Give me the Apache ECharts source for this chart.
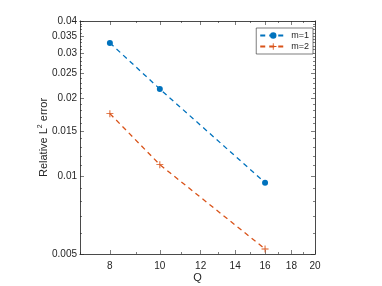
<!DOCTYPE html>
<html><head><meta charset="utf-8">
<script src="https://cdn.jsdelivr.net/npm/echarts@6/dist/echarts.min.js"></script>
<style>html,body{margin:0;padding:0;background:#fff}#c{width:382px;height:286px}</style>
</head><body><div id="c"></div>
<script>
const Q = [8, 10, 16];
const err_m1 = [0.0329, 0.0218, 0.00945];
const err_m2 = [0.0175, 0.0111, 0.00523];
const xTickLabels = [8, 10, 12, 14, 16, 18, 20];
const xMinorTicks = [7, 9, 11, 13, 15, 17, 19];
const yTickLabels = [0.005, 0.01, 0.015, 0.02, 0.025, 0.03, 0.035, 0.04];
const yMinorTicks = [0.006, 0.007, 0.008, 0.009, 0.011, 0.012, 0.013, 0.014, 0.016, 0.017, 0.018, 0.019,
  0.021, 0.022, 0.023, 0.024, 0.026, 0.027, 0.028, 0.029, 0.031, 0.032, 0.033, 0.034, 0.036, 0.037, 0.038, 0.039];

const axisColor = '#262626';
const font = 'Liberation Sans, Arial, Helvetica, sans-serif';
function xAx(pos, labels, ticks, len) {
  return {
    type: 'log', logBase: 10, min: 7, max: 20, position: pos, gridIndex: 0,
    axisLine: { show: true, onZero: false, lineStyle: { color: axisColor, width: 0.6 } },
    axisTick: { show: true, inside: true, length: len, customValues: ticks, lineStyle: { color: axisColor, width: 0.6 } },
    axisLabel: labels ? { show: true, customValues: labels, color: axisColor, fontFamily: font, fontSize: 10, margin: 7 } : { show: false },
    splitLine: { show: false }, minorTick: { show: false }
  };
}
function yAx(pos, labels, ticks, len) {
  return {
    type: 'log', logBase: 10, min: 0.005, max: 0.04, position: pos, gridIndex: 0,
    axisLine: { show: true, onZero: false, lineStyle: { color: axisColor, width: 0.6 } },
    axisTick: { show: true, inside: true, length: len, customValues: ticks, lineStyle: { color: axisColor, width: 0.6 } },
    axisLabel: labels ? { show: true, customValues: labels, color: axisColor, fontFamily: font, fontSize: 10, margin: 3,
      formatter: v => String(+(+v).toPrecision(3)) } : { show: false },
    splitLine: { show: false }, minorTick: { show: false }
  };
}
const xa0 = xAx('bottom', xTickLabels, xTickLabels, 4);
xa0.name = 'Q'; xa0.nameLocation = 'middle'; xa0.nameGap = 18; xa0.nameMoveOverlap = false;
xa0.nameTextStyle = { color: axisColor, fontFamily: font, fontSize: 11 };
const ya0 = yAx('left', yTickLabels, yTickLabels, 4);
ya0.name = '{a|Relative L}{s|2}{a| error}'; ya0.nameLocation = 'middle'; ya0.nameGap = 30; ya0.nameRotate = 90;
ya0.nameMoveOverlap = false;
ya0.nameTextStyle = { color: axisColor, fontFamily: font, fontSize: 11,
  rich: { a: { fontFamily: font, fontSize: 11, color: axisColor }, s: { fontFamily: font, fontSize: 7, color: axisColor, verticalAlign: 'top', padding: [0, 0, 6, 0] } } };

const plus = 'path://M4,0h1.2v4h4v1.2h-4v4h-1.2v-4h-4v-1.2h4z';
const chart = echarts.init(document.getElementById('c'), null, { renderer: 'canvas' });
chart.setOption({
  animation: false,
  backgroundColor: '#fff',
  grid: { left: 80, top: 21, right: 67, bottom: 32, containLabel: false, outerBoundsMode: 'none' },
  xAxis: [xa0, xAx('top', null, xTickLabels, 4), xAx('bottom', null, xMinorTicks, 2), xAx('top', null, xMinorTicks, 2)],
  yAxis: [ya0, yAx('right', null, yTickLabels, 4), yAx('left', null, yMinorTicks, 2), yAx('right', null, yMinorTicks, 2)],
  legend: {
    right: 69, top: 28, orient: 'vertical', itemGap: 2, itemWidth: 26, itemHeight: 8,
    backgroundColor: '#fff', borderColor: axisColor, borderWidth: 0.6, padding: [3, 4, 3, 3],
    textStyle: { color: axisColor, fontFamily: font, fontSize: 9 },
    data: ['m=1', 'm=2']
  },
  series: [
    { name: 'm=1', type: 'line', xAxisIndex: 0, yAxisIndex: 0, data: Q.map((q, i) => [q, err_m1[i]]),
      symbol: 'circle', symbolSize: 6, color: '#0072BD',
      lineStyle: { color: '#0072BD', width: 1.3, type: [5, 4] }, itemStyle: { color: '#0072BD' } },
    { name: 'm=2', type: 'line', xAxisIndex: 0, yAxisIndex: 0, data: Q.map((q, i) => [q, err_m2[i]]),
      symbol: plus, symbolSize: 7, color: '#D95319',
      lineStyle: { color: '#D95319', width: 1.3, type: [5, 4] }, itemStyle: { color: '#D95319' } }
  ]
});
</script></body></html>
